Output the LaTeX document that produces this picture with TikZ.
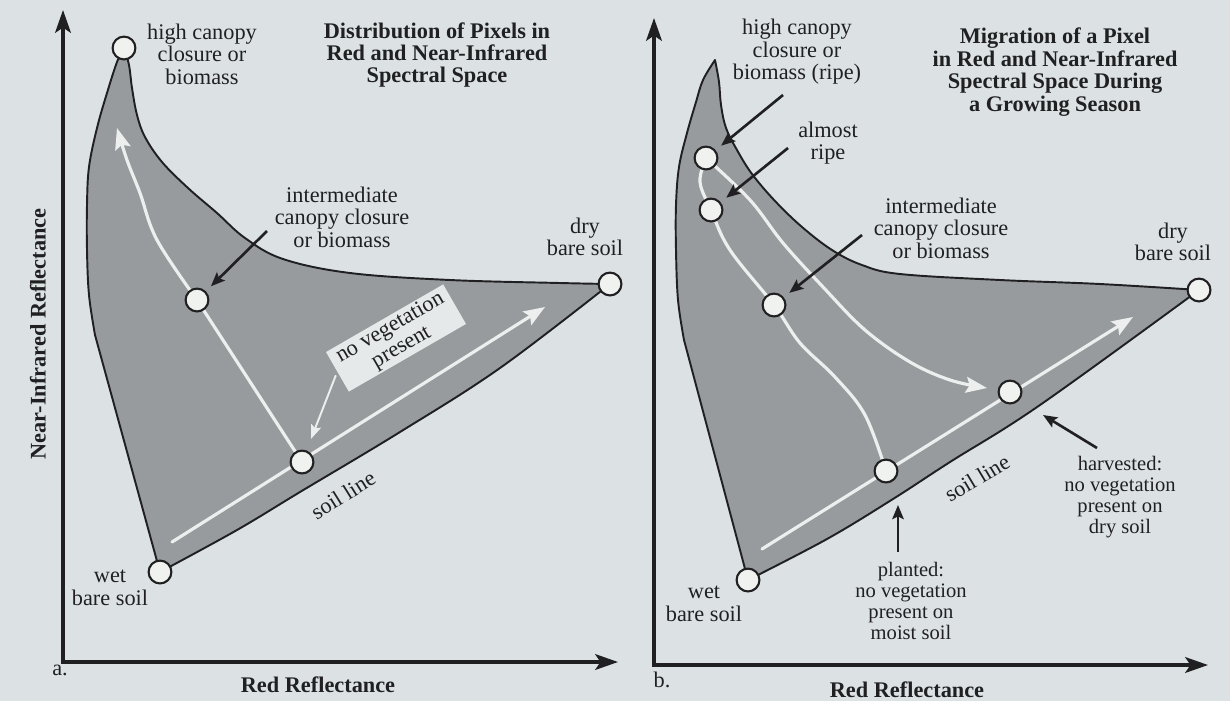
\documentclass[tikz,border=0pt]{standalone}
\usepackage{fontspec}
\setmainfont{Liberation Serif}
\usetikzlibrary{arrows.meta}
\usepackage{xcolor}

\definecolor{paper}{RGB}{220,226,228}
\definecolor{cloud}{RGB}{152,155,157}
\definecolor{track}{RGB}{236,239,238}
\definecolor{pixfill}{RGB}{240,242,239}
\definecolor{boxfill}{RGB}{229,233,233}
\definecolor{ink}{RGB}{32,32,34}

\newcommand{\lblsize}{\fontsize{12.7pt}{12.8pt}\selectfont}
\newcommand{\notesize}{\fontsize{11.7pt}{11.9pt}\selectfont}

\pgfdeclarelayer{paper}
\pgfdeclarelayer{under}
\pgfsetlayers{paper,under,main}

\begin{document}
\begin{tikzpicture}[x=0.02cm, y=-0.02cm,
    lbl/.style={font=\lblsize, text=ink, align=center, inner sep=0pt},
    ttl/.style={font=\lblsize\bfseries, text=ink, align=center, inner sep=0pt},
    note/.style={font=\notesize, text=ink, align=center, inner sep=0pt},
    pix/.style={circle, draw=ink, line width=1.2pt, fill=pixfill,
                minimum size=13pt, inner sep=0pt},
    region/.style={draw=ink, line width=1.1pt, fill=cloud, line join=round},
    axis/.style={draw=ink, line width=1.8pt,
                 arrows={Stealth[length=13pt,width=9pt,inset=3pt]-Stealth[length=13pt,width=9pt,inset=3pt]}},
    pointer/.style={draw=ink, line width=1.5pt, shorten >=4pt,
                    arrows={-Stealth[length=8pt,width=6.5pt,inset=1.5pt]}},
    track/.style={draw=track, line width=1.8pt, line cap=round},
    trackarr/.style={track, arrows={-Stealth[length=12pt,width=9pt,inset=2pt]}},
    thinptr/.style={draw=track, line width=1.1pt,
                    arrows={-Stealth[length=8pt,width=6pt,inset=1.5pt]}}]

  %% ── paper ─────────────────────────────────────────────────
  \begin{pgfonlayer}{paper}
    \fill[paper] (0,0) rectangle (1230,701);
  \end{pgfonlayer}
  \useasboundingbox (0,0) rectangle (1230,701);

  %% ═══════════════════════════════════════════════════════════
  %% PANEL a — distribution of pixels
  %% ═══════════════════════════════════════════════════════════
  \coordinate (a-o)    at (63,662);
  \coordinate (a-ytop) at (63,10);
  \coordinate (a-xend) at (618,662);
  \draw[axis] (a-ytop) -- (a-o) -- (a-xend);

  \node[ttl] (a-xlab) at (318,685) {Red Reflectance};
  \node[ttl, rotate=90] (a-ylab) at (38,334) {Near-Infrared Reflectance};
  \node[lbl] (a-tag) at (60,670) {a.};
  \node[ttl] (a-title) at (437,55)
    {Distribution of Pixels in\\Red and Near-Infrared\\Spectral Space};

  %% pixels
  \node[pix] (a-top)  at (124,48)  {};
  \node[pix] (a-mid)  at (197,300) {};
  \node[pix] (a-soil) at (302,462) {};
  \node[pix] (a-wet)  at (160,572) {};
  \node[pix] (a-dry)  at (610,284) {};

  \node[lbl] (a-toplbl) at (202,54)  {high canopy\\closure or\\biomass};
  \node[lbl] (a-midlbl) at (342,217) {intermediate\\canopy closure\\or biomass};
  \node[lbl] (a-drylbl) at (585,237) {dry\\bare soil};
  \node[lbl] (a-wetlbl) at (110,588) {wet\\bare soil};
  \node[lbl, rotate=32] (a-soillbl) at (343,495) {soil line};
  \node[lbl, fill=boxfill, rotate=30, minimum width=77pt,
        minimum height=26pt, inner sep=1pt] (a-noveg) at (396,338)
    {no vegetation\\present};

  \coordinate (a-midtail)   at (267,231);
  \coordinate (a-soilstart) at (172,542);
  \coordinate (a-soiltip)   at (545,307);
  \draw[pointer] (a-midtail) -- (a-mid);
  \draw[thinptr, shorten >=7pt, shorten <=2pt] (a-noveg.west) -- (a-soil);

  \begin{pgfonlayer}{under}
    \draw[region] (a-wet.center) -- (95,335)
      -- plot[smooth, tension=0.6] coordinates {(95,335) (89,295) (87,250)
           (87,205) (89,167) (97,128) (107,93) (117,62) (a-top.center)}
      -- plot[smooth, tension=0.6] coordinates {(a-top.center) (129,65)
           (132,88) (137,115) (145,137) (162,162) (188,188) (217,213)
           (245,238) (283,259) (350,273) (450,280) (560,283) (a-dry.center)}
      -- plot[smooth, tension=0.6] coordinates {(a-dry.center) (500,368)
           (400,432) (300,492) (237,530) (a-wet.center)}
      -- cycle;
    \draw[track] (a-soil) -- (a-mid);
    \draw[trackarr] plot[smooth, tension=0.6] coordinates
      {(a-mid.center) (157,240) (140,193) (127,160) (117,128)};
    \draw[trackarr] (a-soilstart) -- (a-soiltip);
  \end{pgfonlayer}

  %% ═══════════════════════════════════════════════════════════
  %% PANEL b — migration during a growing season
  %% ═══════════════════════════════════════════════════════════
  \coordinate (b-o)    at (654,665);
  \coordinate (b-ytop) at (654,18);
  \coordinate (b-xend) at (1208,665);
  \draw[axis] (b-ytop) -- (b-o) -- (b-xend);

  \node[ttl] (b-xlab) at (907,690) {Red Reflectance};
  \node[lbl] (b-tag) at (662,680) {b.};
  \node[ttl] (b-title) at (1055,72)
    {Migration of a Pixel\\in Red and Near-Infrared\\Spectral Space During\\a Growing Season};

  %% pixels
  \node[pix] (b-ripe)   at (706,158)  {};
  \node[pix] (b-almost) at (711,210)  {};
  \node[pix] (b-mid)    at (774,305)  {};
  \node[pix] (b-plant)  at (886,471)  {};
  \node[pix] (b-harv)   at (1010,392) {};
  \node[pix] (b-wet)    at (748,580)  {};
  \node[pix] (b-dry)    at (1199,290) {};

  \node[lbl] (b-toplbl)    at (797,52)  {high canopy\\closure or\\biomass (ripe)};
  \node[lbl] (b-almostlbl) at (828,143) {almost\\ripe};
  \node[lbl] (b-midlbl)    at (941,228) {intermediate\\canopy closure\\or biomass};
  \node[lbl] (b-drylbl)    at (1173,242) {dry\\bare soil};
  \node[lbl] (b-wetlbl)    at (704,604) {wet\\bare soil};
  \node[lbl, rotate=31] (b-soillbl) at (977,478) {soil line};
  \node[note] (b-plantlbl) at (911,601)
    {planted:\\no vegetation\\present on\\moist soil};
  \node[note] (b-harvlbl) at (1120,497)
    {harvested:\\no vegetation\\present on\\dry soil};

  \coordinate (b-peak)        at (715,60);
  \coordinate (b-ripetail)    at (783,95);
  \coordinate (b-almosttail)  at (788,148);
  \coordinate (b-midtail)     at (862,235);
  \coordinate (b-planttail)   at (898,552);
  \coordinate (b-planttip)    at (898,505);
  \coordinate (b-harvtail)    at (1097,448);
  \coordinate (b-harvtip)     at (1043,415);
  \coordinate (b-soilstart)   at (762,549);
  \coordinate (b-soiltip)     at (1133,317);

  \draw[pointer] (b-ripetail) -- (b-ripe);
  \draw[pointer] (b-almosttail) -- (b-almost);
  \draw[pointer] (b-midtail) -- (b-mid);
  \draw[pointer, shorten >=0pt] (b-planttail) -- (b-planttip);
  \draw[pointer, shorten >=0pt] (b-harvtail) -- (b-harvtip);

  \begin{pgfonlayer}{under}
    \draw[region] (b-wet.center) -- (684,340)
      -- plot[smooth, tension=0.6] coordinates {(684,340) (678,300) (676,250)
           (676,205) (679,167) (687,133) (696,102) (703,80) (b-peak)}
      -- plot[smooth, tension=0.6] coordinates {(b-peak) (719,82) (721,105)
           (726,128) (737,150) (752,174) (775,201) (802,227) (832,250)
           (862,265) (900,274) (1000,280) (1100,284) (b-dry.center)}
      -- plot[smooth, tension=0.6] coordinates {(b-dry.center) (1040,405)
           (950,462) (893,499) (827,539) (b-wet.center)}
      -- cycle;
    \draw[track] plot[smooth, tension=0.6] coordinates {(b-ripe.center)
      (700,182) (b-almost.center) (730,250) (b-mid.center) (800,343)
      (835,377) (865,415) (b-plant.center)};
    \draw[trackarr] plot[smooth, tension=0.6] coordinates {(b-ripe.center)
      (750,200) (783,243) (823,287) (865,330) (910,362) (950,380) (987,388)};
    \draw[trackarr] (b-soilstart) -- (b-soiltip);
  \end{pgfonlayer}

\end{tikzpicture}
\end{document}
